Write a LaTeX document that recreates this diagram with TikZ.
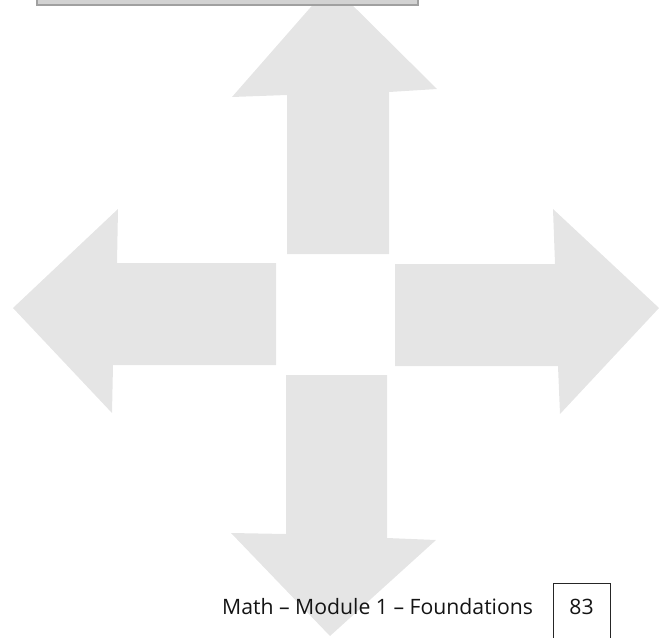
\documentclass[tikz,border=0pt]{standalone}
\usepackage{fontspec}
\setmainfont{Open Sans}
\definecolor{arrowgray}{HTML}{E5E5E5}
\definecolor{boxgray}{HTML}{D2D2D2}
\definecolor{boxedge}{HTML}{A0A0A0}

\begin{document}
\begin{tikzpicture}[x=1pt,y=-1pt]
  \useasboundingbox (0,0) rectangle (661,637);
  \clip (0,0) rectangle (661,637);
  \tikzset{bigarrow/.style={fill=arrowgray,draw=none},
    footfont/.style={inner sep=0pt,font=\fontsize{21.2}{25}\selectfont,text=black!92}}
  % four arrows round the empty middle
  \fill[bigarrow] (287,254) -- (287,95) -- (232,97) -- (331,-16) -- (437,89) -- (389,92) -- (389,254) -- cycle;
  \fill[bigarrow] (276,263) -- (117,263) -- (118,209) -- (13,308) -- (112,413) -- (113,365) -- (276,365) -- cycle;
  \fill[bigarrow] (395,264) -- (555,264) -- (553,209) -- (659,308) -- (560,414) -- (558,366) -- (395,366) -- cycle;
  \fill[bigarrow] (286,375) -- (387,375) -- (387,538) -- (436,540) -- (330,636) -- (231,533) -- (286,534) -- cycle;
  % box at the top, cut by the page
  \draw[boxedge,fill=boxgray,line width=2pt] (37,-20) rectangle (418,5);
  % footer
  \node[footfont,anchor=base west] (footer) at (222,614) {Math – Module 1 – Foundations};
  \draw[black!85,line width=0.8pt] (553,650) -- (553,583) -- (610,583) -- (610,650);
  \node[footfont,anchor=base] (page) at (581.5,614) {83};
\end{tikzpicture}
\end{document}
